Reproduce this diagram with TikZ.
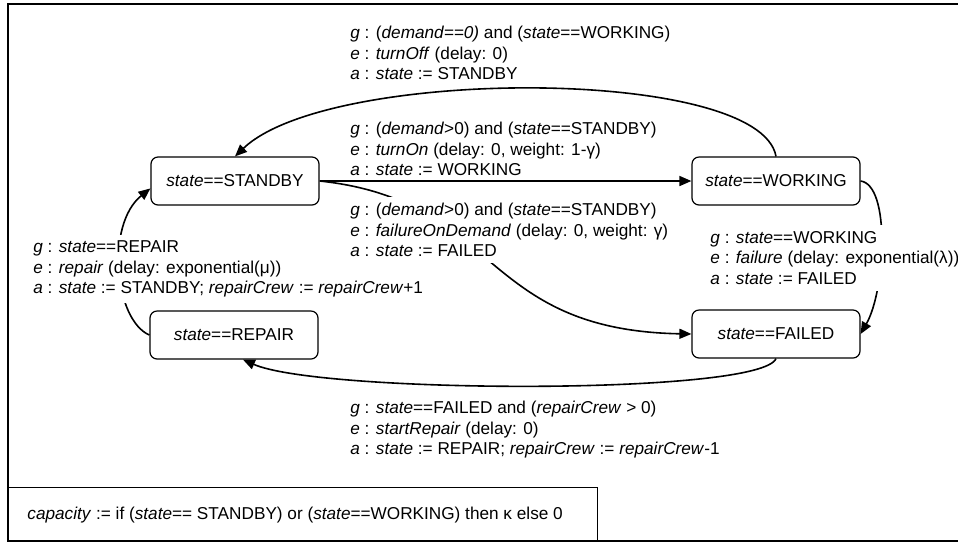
\documentclass[tikz,border=0pt]{standalone}
\usepackage{fontspec}
\setmainfont{Liberation Sans}
\usetikzlibrary{arrows.meta}
\tikzset{
px/.style={x=0.5pt,y=-0.5pt}, % grid in half points, y going down
>={Triangle[length=6pt,width=5pt]},
my state/.style={draw,rectangle,rounded corners=3.5pt,minimum height=24pt,minimum width=84pt,line width=0.6pt},
my guard/.style={align=left,inner sep=2pt,anchor=west},
my cover/.style={my guard,fill=white,inner sep=3pt},
my edge/.style={->,line width=0.8pt},
}

\begin{document}
\begin{tikzpicture}[px,font=\fontsize{8.6}{10.25}\selectfont]
\useasboundingbox (0,0) rectangle (958,543);
\draw[line width=1.1pt] (962,4) -- (8,4) -- (8,541) -- (962,541);
\draw[line width=0.5pt] (8,487) rectangle (597,541);
\node[my guard] (capacity) at (23,515) {\textit{capacity} := if (\textit{state}== STANDBY) or (\textit{state}==WORKING) then κ else 0};
% states
\node[my state] (standby) at (235,181) {\textit{state}==STANDBY};
\node[my state] (working) at (776,181) {\textit{state}==WORKING};
\node[my state] (repair)  at (234,335) {\textit{state}==REPAIR};
\node[my state] (failed)  at (776,334) {\textit{state}==FAILED};
% transitions
\path[my edge] (standby) edge (working);
\draw[my edge] (working.north) .. controls +(-16,-90) and +(94,-90) .. (standby.north);
\draw[my edge] (standby.east) .. controls +(180,19) and +(-213,-4) .. (failed.west);
\draw[my edge] (working.east) .. controls +(30,4) and +(25,-44) .. (failed.east);
\draw[my edge] (failed.south) .. controls +(-16,37) and +(77,34) .. (repair.-70);
\draw[my edge] (repair.west) .. controls +(-35,-15) and +(-45,36) .. (standby.185);
% guards, events, actions (white ones sit on their arcs)
\node[my cover] (repaired) at (27,269) {\textit{g} : \textit{state}==REPAIR\\
  \textit{e} : \textit{repair} (delay: exponential(μ))\\
  \textit{a} : \textit{state} := STANDBY; \textit{repairCrew} := \textit{repairCrew}+1};
\node[my guard] (off) at (346,53) {\textit{g} : (\textit{demand==0)} and (\textit{state}==WORKING)\\
  \textit{e} : \textit{turnOff} (delay: 0)\\
  \textit{a} : \textit{state} := STANDBY};
\node[my guard] (on) at (346,149) {\textit{g} : (\textit{demand}>0) and (\textit{state}==STANDBY)\\
  \textit{e} : \textit{turnOn} (delay: 0, weight: 1-γ)\\
  \textit{a} : \textit{state} := WORKING};
\node[my cover] (ondemand) at (344,230) {\textit{g} : (\textit{demand}>0) and (\textit{state}==STANDBY)\\
  \textit{e} : \textit{failureOnDemand} (delay: 0, weight: γ)\\
  \textit{a} : \textit{state} := FAILED};
\node[my cover] (failure) at (704,258) {\textit{g} : \textit{state}==WORKING\\
  \textit{e} : \textit{failure} (delay: exponential(λ))\\
  \textit{a} : \textit{state} := FAILED};
\node[my guard] (start) at (346,430) {\textit{g} : \textit{state}==FAILED and (\textit{repairCrew} > 0)\\
  \textit{e} : \textit{startRepair} (delay: 0)\\
  \textit{a} : \textit{state} := REPAIR; \textit{repairCrew} := \textit{repairCrew}-1};
\end{tikzpicture}
\end{document}
